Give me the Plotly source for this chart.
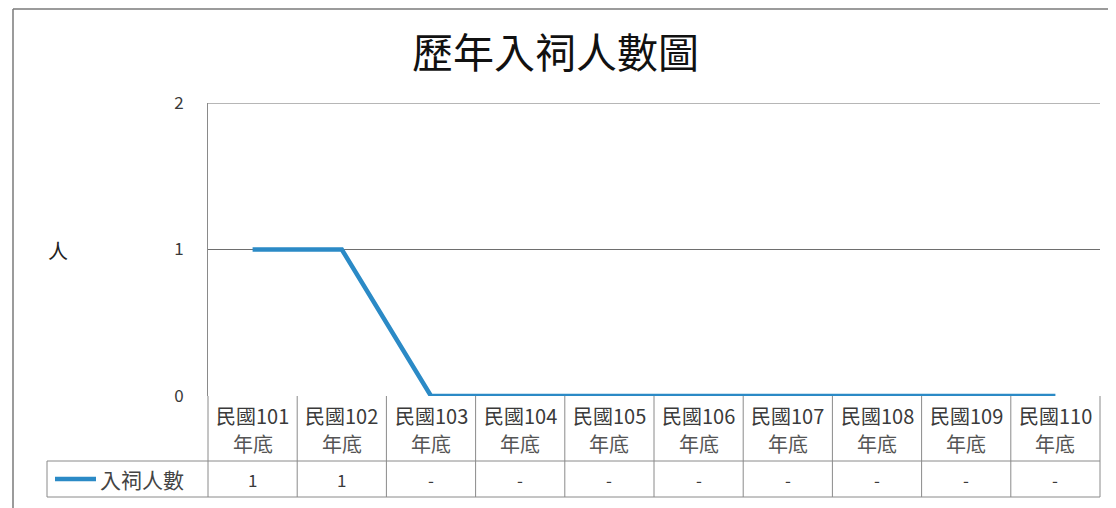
import plotly.graph_objects as go

categories = ["民國101", "民國102", "民國103", "民國104", "民國105",
              "民國106", "民國107", "民國108", "民國109", "民國110"]
category_suffix = "年底"
series_name = "入祠人數"
values = [1, 1, 0, 0, 0, 0, 0, 0, 0, 0]
y_ticks = [0, 1, 2]
title_text = "歷年入祠人數圖"
y_label = "人"

W, H = 1116, 508
OFF = 8  # page body margin of the browser
FONT = "Noto Sans CJK TC"
LINE_COLOR = "#2B8AC6"
GRID = "#8a8a8a"
TXT = "#3a3a3a"

def px_x(p):
    return (p - OFF) / W

def px_y(p):
    return (H - (p - OFF)) / H

x_left, x_right = 208, 1100
y_top, y_zero = 103, 396
row1_bottom, row2_bottom = 461, 497
legend_left = 47

n = len(categories)
xs = list(range(n))

fig = go.Figure()
fig.add_trace(go.Scatter(
    x=xs, y=values, mode="lines", name=series_name,
    line=dict(color=LINE_COLOR, width=4.5), showlegend=False,
    hoverinfo="skip"))

fig.update_layout(
    width=W, height=H,
    margin=dict(l=0, r=0, t=0, b=0, pad=0, autoexpand=False),
    paper_bgcolor="white", plot_bgcolor="white",
    font=dict(family=FONT, color=TXT),
    showlegend=False,
    xaxis=dict(domain=[px_x(x_left), px_x(x_right)], range=[-0.5, n - 0.5],
               showticklabels=False, showgrid=False, zeroline=False,
               showline=False, fixedrange=True, automargin=False),
    yaxis=dict(domain=[px_y(y_zero), px_y(y_top)], range=[0, 2],
               tickvals=y_ticks, ticktext=[str(t) for t in y_ticks],
               showgrid=True, gridcolor="#6e6e6e", gridwidth=1,
               zeroline=False, showline=True, linecolor=GRID, linewidth=1,
               ticks="", ticklabelstandoff=20, automargin=False,
               tickfont=dict(size=17, color=TXT, family=FONT),
               fixedrange=True),
)

shapes = []
# top gridline (value 2), drawn explicitly so it is not dropped at the edge
shapes.append(dict(type="line", xref="paper", yref="y",
                   x0=px_x(x_left), x1=px_x(x_right), y0=max(y_ticks), y1=max(y_ticks),
                   line=dict(color="#6e6e6e", width=1)))
# outer frame of the chart
shapes.append(dict(type="line", xref="paper", yref="paper",
                   x0=px_x(13), x1=1.0, y0=px_y(9), y1=px_y(9),
                   line=dict(color="#7a7a7a", width=1.5)))
shapes.append(dict(type="line", xref="paper", yref="paper",
                   x0=px_x(13), x1=px_x(13), y0=px_y(9), y1=0,
                   line=dict(color="#7a7a7a", width=1.5)))
# table horizontal lines
for yy in (row1_bottom, row2_bottom):
    shapes.append(dict(type="line", xref="paper", yref="paper",
                       x0=px_x(legend_left), x1=px_x(x_right),
                       y0=px_y(yy), y1=px_y(yy),
                       line=dict(color=GRID, width=1)))
# table outer verticals
for xx in (x_left, x_right):
    shapes.append(dict(type="line", xref="paper", yref="paper",
                       x0=px_x(xx), x1=px_x(xx),
                       y0=px_y(y_zero), y1=px_y(row2_bottom),
                       line=dict(color=GRID, width=1)))
shapes.append(dict(type="line", xref="paper", yref="paper",
                   x0=px_x(legend_left), x1=px_x(legend_left),
                   y0=px_y(row1_bottom), y1=px_y(row2_bottom),
                   line=dict(color=GRID, width=1)))
# inner category separators
for k in range(1, n):
    shapes.append(dict(type="line", xref="x", yref="paper",
                       x0=k - 0.5, x1=k - 0.5,
                       y0=px_y(y_zero), y1=px_y(row2_bottom),
                       line=dict(color=GRID, width=1)))
# legend sample line
shapes.append(dict(type="line", xref="paper", yref="paper",
                   x0=px_x(55), x1=px_x(96), y0=px_y(479), y1=px_y(479),
                   line=dict(color=LINE_COLOR, width=4.5)))
fig.update_layout(shapes=shapes)

ann = []
ann.append(dict(text=title_text, xref="paper", yref="paper",
                x=px_x(555), y=px_y(50), showarrow=False,
                font=dict(size=41, color="#111111", family=FONT),
                xanchor="center", yanchor="middle"))
ann.append(dict(text=y_label, xref="paper", yref="paper",
                x=px_x(58), y=px_y(250), showarrow=False,
                font=dict(size=20, color="#222222", family=FONT),
                xanchor="center", yanchor="middle"))
for i, c in enumerate(categories):
    ann.append(dict(text=c, xref="x", yref="paper", x=i, y=px_y(415),
                    showarrow=False, xanchor="center", yanchor="middle",
                    font=dict(size=20, color=TXT, family=FONT)))
    ann.append(dict(text=category_suffix, xref="x", yref="paper", x=i,
                    y=px_y(443), showarrow=False, xanchor="center",
                    yanchor="middle",
                    font=dict(size=20, color="#555555", family=FONT)))
    label = "-" if values[i] == 0 else str(values[i])
    ann.append(dict(text=label, xref="x", yref="paper", x=i, y=px_y(479),
                    showarrow=False, xanchor="center", yanchor="middle",
                    font=dict(size=17, color=TXT, family=FONT)))
ann.append(dict(text=series_name, xref="paper", yref="paper",
                x=px_x(98), y=px_y(479), showarrow=False,
                xanchor="left", yanchor="middle",
                font=dict(size=21, color="#444444", family=FONT)))
fig.update_layout(annotations=ann)

fig.write_html("out.html")
